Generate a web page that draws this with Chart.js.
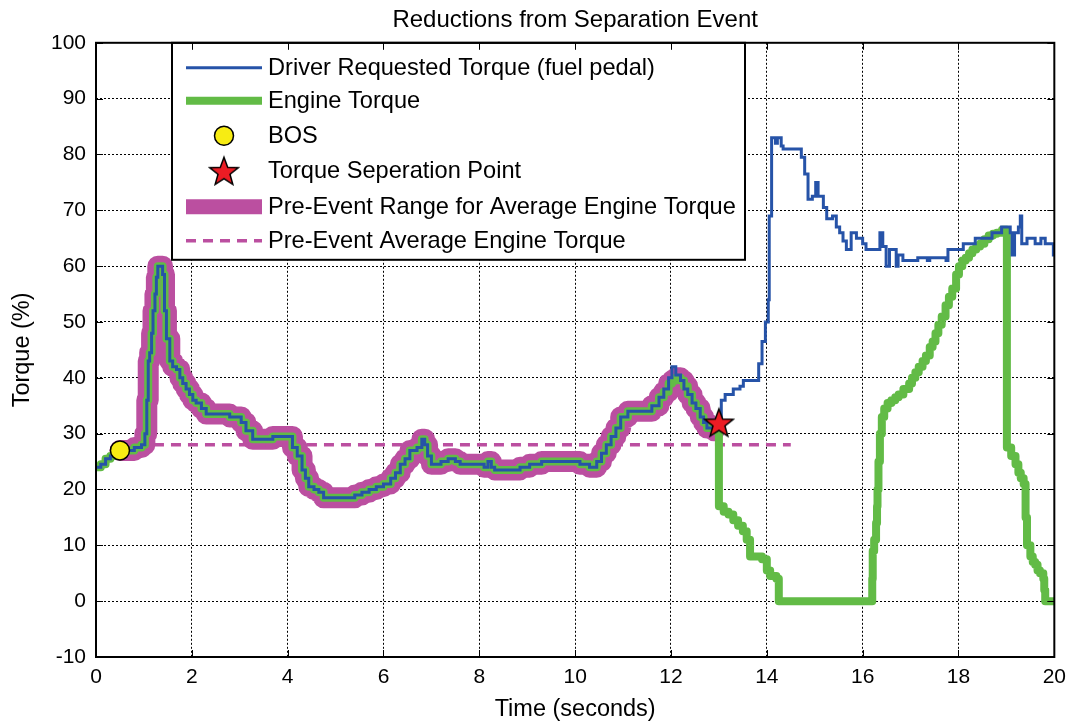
<!DOCTYPE html>
<html>
<head>
<meta charset="utf-8">
<title>Reductions from Separation Event</title>
<script src="https://cdn.jsdelivr.net/npm/chart.js@4.4.1/dist/chart.umd.min.js"></script>
<style>
  html, body { margin: 0; padding: 0; background: #fff; }
  #wrap { width: 1074px; height: 725px; }
</style>
</head>
<body>
<div id="wrap"><canvas id="torqueChart" width="1074" height="725"></canvas></div>
<script>
var FONT = "'Liberation Sans', Arial, Helvetica, sans-serif";

// Pedal (driver requested) torque, % vs seconds
var driverTime = [
  0, 0.1, 0.2, 0.3, 0.4, 0.5, 0.65, 0.8, 0.95, 1.02,
  1.06, 1.09, 1.12, 1.16, 1.19, 1.23, 1.26, 1.29, 1.39, 1.43,
  1.47, 1.54, 1.6, 1.68, 1.75, 1.81, 1.88, 1.95, 2.02, 2.09,
  2.2, 2.3, 2.58, 2.79, 3.03, 3.13, 3.27, 3.62, 3.69, 4.03,
  4.1, 4.2, 4.3, 4.37, 4.44, 4.55, 4.65, 4.75, 5.4, 5.55,
  5.7, 5.85, 6.0, 6.15, 6.25, 6.35, 6.45, 6.55, 6.7, 6.8,
  6.86, 6.92, 7.0, 7.2, 7.35, 7.5, 7.6, 7.8, 8.1, 8.18,
  8.25, 8.32, 8.7, 8.85, 9.05, 9.3, 9.9, 10.1, 10.3, 10.45,
  10.55, 10.65, 10.75, 10.85, 10.95, 11.1, 11.45, 11.6, 11.75, 11.85,
  11.95, 12.02, 12.1, 12.2, 12.27, 12.35, 12.44, 12.52, 12.61, 12.68,
  12.75, 12.9, 13.0, 13.05, 13.13, 13.3, 13.44, 13.51, 13.79, 13.83,
  13.9, 13.97, 14.03, 14.05, 14.1, 14.18, 14.22, 14.3, 14.34, 14.65,
  14.72, 14.79, 14.86, 14.95, 15.02, 15.07, 15.18, 15.25, 15.37, 15.45,
  15.52, 15.59, 15.66, 15.76, 15.87, 16.0, 16.07, 16.31, 16.36, 16.42,
  16.49, 16.56, 16.7, 16.74, 16.84, 17.1, 17.15, 17.35, 17.4, 17.74,
  17.78, 18.0, 18.1, 18.35, 18.7, 18.9, 19.08, 19.12, 19.17, 19.25,
  19.29, 19.32, 19.43, 19.6, 19.72, 19.81, 19.98, 20.0
];
var driverTorque = [
  24, 24.5, 25.5, 26, 26.5, 27, 27, 27.5, 28, 30,
  36, 43, 44.5, 48, 52, 55, 58, 60, 58.5, 52,
  47, 43, 42, 41.5, 40, 39, 38, 37, 36, 35.5,
  34.5, 33.5, 33.5, 33, 32, 30.5, 29, 29, 29.5, 29.5,
  27.5, 26, 23.5, 22, 20.5, 20, 19.5, 18.5, 19, 19.5,
  20, 20.5, 21, 22, 23, 24.5, 25.5, 27, 27.5, 29,
  28, 26, 24.5, 25, 25.5, 25, 24.5, 24.5, 24, 25,
  24, 23.5, 23.5, 24, 24.5, 25, 25, 24.5, 24, 25,
  26.5, 28, 29.5, 31, 33, 34, 34, 35, 36.5, 38,
  40, 42, 40.5, 39.5, 38, 37, 35.5, 34.5, 33, 32,
  31, 31, 33, 36, 37, 38, 38.5, 39.5, 39.5, 42.5,
  46.5, 50, 54, 69, 83, 82, 83, 81.5, 81, 81,
  79.5, 76.5, 72, 72.5, 75, 72.5, 70.5, 68.5, 69, 67,
  66, 64.5, 63, 66, 65, 64, 63, 63, 66, 63.5,
  60, 63, 60, 62, 61, 61, 61.5, 61, 61.5, 61,
  63, 63, 64, 65, 66, 67, 66, 62, 66, 67,
  69, 64, 65, 64, 65, 64, 62, 62
];

// Actual engine torque, % vs seconds
var engineTime = [
  0, 0.1, 0.2, 0.3, 0.4, 0.5, 0.65, 0.8, 0.95, 1.02,
  1.06, 1.09, 1.12, 1.16, 1.19, 1.23, 1.26, 1.29, 1.39, 1.43,
  1.47, 1.54, 1.6, 1.68, 1.75, 1.81, 1.88, 1.95, 2.02, 2.09,
  2.2, 2.3, 2.58, 2.79, 3.03, 3.13, 3.27, 3.62, 3.69, 4.03,
  4.1, 4.2, 4.3, 4.37, 4.44, 4.55, 4.65, 4.75, 5.4, 5.55,
  5.7, 5.85, 6.0, 6.15, 6.25, 6.35, 6.45, 6.55, 6.7, 6.8,
  6.86, 6.92, 7.0, 7.2, 7.35, 7.5, 7.6, 7.8, 8.1, 8.18,
  8.25, 8.32, 8.7, 8.85, 9.05, 9.3, 9.9, 10.1, 10.3, 10.45,
  10.55, 10.65, 10.75, 10.85, 10.95, 11.1, 11.45, 11.6, 11.75, 11.85,
  11.95, 12.02, 12.1, 12.2, 12.27, 12.35, 12.44, 12.52, 12.61, 12.68,
  12.75, 12.9, 13.0, 13.1, 13.2, 13.3, 13.4, 13.5, 13.58, 13.65,
  13.9, 14.0, 14.07, 14.2, 14.25, 16.18, 16.2, 16.21, 16.24, 16.28,
  16.3, 16.31, 16.33, 16.36, 16.4, 16.45, 16.52, 16.6, 16.68, 16.75,
  16.85, 16.97, 17.03, 17.1, 17.17, 17.25, 17.32, 17.4, 17.46, 17.52,
  17.58, 17.65, 17.73, 17.8, 17.87, 17.95, 18.01, 18.08, 18.15, 18.22,
  18.29, 18.37, 18.45, 18.54, 18.63, 18.72, 18.8, 18.91, 19.01, 19.1,
  19.19, 19.25, 19.3, 19.36, 19.4, 19.43, 19.5, 19.55, 19.6, 19.65,
  19.7, 19.77, 19.79, 19.81, 20.0
];
var engineTorque = [
  24, 24.5, 25.5, 26, 26.5, 27, 27, 27.5, 28, 30,
  36, 43, 44.5, 48, 52, 55, 58, 60, 58.5, 52,
  47, 43, 42, 41.5, 40, 39, 38, 37, 36, 35.5,
  34.5, 33.5, 33.5, 33, 32, 30.5, 29, 29, 29.5, 29.5,
  27.5, 26, 23.5, 22, 20.5, 20, 19.5, 18.5, 19, 19.5,
  20, 20.5, 21, 22, 23, 24.5, 25.5, 27, 27.5, 29,
  28, 26, 24.5, 25, 25.5, 25, 24.5, 24.5, 24, 25,
  24, 23.5, 23.5, 24, 24.5, 25, 25, 24.5, 24, 25,
  26.5, 28, 29.5, 31, 33, 34, 34, 35, 36.5, 37.5,
  39, 39.5, 40, 39.5, 38.5, 37, 35.5, 34.5, 33, 32,
  31, 30.5, 17, 16, 15.5, 14.5, 13.5, 12.5, 11, 8,
  7.5, 5.5, 4.5, 4, 0, 0, 4, 9, 11, 14,
  17, 20, 25, 30, 33, 34.5, 35.5, 36, 36.5, 37,
  38, 39, 40, 41, 42, 43, 44, 45.5, 46.5, 48,
  49.5, 51, 53, 54.5, 56, 58.5, 60, 61, 61.5, 62.3,
  63, 63.5, 64, 64.8, 65.5, 65.8, 66, 66.5, 27.5, 26,
  24.5, 23, 22, 21, 15, 10, 8, 7, 6.5, 5.5,
  5, 4, 2, 0, 0
];

// Markers and the pre-event window
var bosTime = [0.5];
var bosTorque = [27];
var separationTime = [13.0];
var separationTorque = [32];
var preEventWindow = [0.5, 12.95];
var averageWindow = [0.5, 14.5];
var averageTorque = 28;

var xTicks = { min: 0, max: 20, step: 2 };
var yTicks = { min: -10, max: 100, step: 10 };

var BLUE = "#2653a8";
var GREEN = "#62bb46";
var MAGENTA = "#bb4fa0";

function toPoints(xs, ys) {
  return xs.map(function(x, i){ return { x: x, y: ys[i] }; });
}

// band = engine torque inside the pre-event window
var bandPoints = toPoints(engineTime, engineTorque).filter(function(p){
  return p.x >= preEventWindow[0] && p.x <= preEventWindow[1];
});

function makeStar(r) {
  var size = Math.ceil(r * 2 + 4);
  var c = document.createElement("canvas");
  c.width = size; c.height = size;
  var g = c.getContext("2d");
  g.translate(size / 2, size / 2 + r * 0.1);
  g.beginPath();
  for (var i = 0; i < 10; i++) {
    var rad = i % 2 === 0 ? r : r * 0.42;
    var a = -Math.PI / 2 + i * Math.PI / 5;
    g.lineTo(rad * Math.cos(a), rad * Math.sin(a));
  }
  g.closePath();
  g.fillStyle = "#ec1c24";
  g.fill();
  g.lineWidth = 1.5;
  g.strokeStyle = "#000";
  g.stroke();
  return c;
}
var starImg = makeStar(15);

// box around the axes with inward ticks on all four sides
var framePlugin = {
  id: "frame",
  afterDraw: function(chart) {
    var ctx = chart.ctx, a = chart.chartArea;
    var xs = chart.scales.x, ys = chart.scales.y;
    ctx.save();
    ctx.strokeStyle = "#000";
    ctx.lineWidth = 1;
    ctx.beginPath();
    xs.ticks.forEach(function(t){
      var px = Math.round(xs.getPixelForValue(t.value)) + 0.5;
      ctx.moveTo(px, a.bottom); ctx.lineTo(px, a.bottom - 7);
      ctx.moveTo(px, a.top); ctx.lineTo(px, a.top + 7);
    });
    ys.ticks.forEach(function(t){
      var py = Math.round(ys.getPixelForValue(t.value)) + 0.5;
      ctx.moveTo(a.left, py); ctx.lineTo(a.left + 7, py);
      ctx.moveTo(a.right, py); ctx.lineTo(a.right - 7, py);
    });
    ctx.stroke();
    ctx.lineWidth = 2;
    ctx.strokeRect(a.left, a.top, a.right - a.left, a.bottom - a.top);
    ctx.restore();
  }
};

// legend box drawn inside the axes
var legendPlugin = {
  id: "boxLegend",
  afterDatasetsDraw: function(chart) {
    var ctx = chart.ctx, a = chart.chartArea;
    var left = a.left + 76, top = a.top, w = 573, h = 217;
    var rows = [25, 58, 93, 128, 164, 198];
    var x0 = left + 14, x1 = left + 90, xm = (x0 + x1) / 2;
    ctx.save();
    ctx.fillStyle = "#fff";
    ctx.fillRect(left, top, w, h);
    ctx.strokeStyle = "#000";
    ctx.lineWidth = 2;
    ctx.strokeRect(left, top, w, h);

    chart.data.datasets.forEach(function(ds, i){
      var y = top + rows[i];
      ctx.save();
      if (ds.legendMarker === "circle") {
        ctx.beginPath();
        ctx.arc(xm, y, ds.pointRadius, 0, Math.PI * 2);
        ctx.fillStyle = ds.pointBackgroundColor;
        ctx.fill();
        ctx.lineWidth = ds.pointBorderWidth;
        ctx.strokeStyle = ds.pointBorderColor;
        ctx.stroke();
      } else if (ds.legendMarker === "star") {
        ctx.drawImage(starImg, xm - starImg.width / 2, y - starImg.height / 2);
      } else {
        ctx.beginPath();
        ctx.moveTo(x0, y);
        ctx.lineTo(x1, y);
        ctx.strokeStyle = ds.borderColor;
        ctx.lineWidth = ds.legendLineWidth || ds.borderWidth;
        ctx.setLineDash(ds.borderDash || []);
        ctx.stroke();
      }
      ctx.restore();
      ctx.fillStyle = "#000";
      ctx.font = "23.6px " + FONT;
      ctx.textBaseline = "middle";
      ctx.textAlign = "left";
      ctx.fillText(ds.label, left + 96, y + 1);
    });
    ctx.restore();
  }
};

new Chart(document.getElementById("torqueChart"), {
  type: "line",
  data: {
    datasets: [
      {
        label: "Driver Requested Torque (fuel pedal)",
        data: toPoints(driverTime, driverTorque),
        borderColor: BLUE, borderWidth: 3, pointRadius: 0,
        stepped: true, order: 1
      },
      {
        label: "Engine Torque",
        data: toPoints(engineTime, engineTorque),
        borderColor: GREEN, borderWidth: 8, pointRadius: 0,
        stepped: true, borderJoinStyle: "round", borderCapStyle: "round",
        order: 2
      },
      {
        label: "BOS",
        data: toPoints(bosTime, bosTorque),
        showLine: false, pointRadius: 9.5, pointBorderWidth: 1.5,
        pointBackgroundColor: "#f7ec13", pointBorderColor: "#000",
        legendMarker: "circle", order: 0
      },
      {
        label: "Torque Seperation Point",
        data: toPoints(separationTime, separationTorque),
        showLine: false, pointStyle: starImg, pointRadius: 15,
        legendMarker: "star", order: 0
      },
      {
        label: "Pre-Event Range for Average Engine Torque",
        data: bandPoints,
        borderColor: MAGENTA, borderWidth: 21, legendLineWidth: 15,
        pointRadius: 0, stepped: true,
        borderJoinStyle: "round", borderCapStyle: "round", order: 4
      },
      {
        label: "Pre-Event Average Engine Torque",
        data: toPoints(averageWindow, [averageTorque, averageTorque]),
        borderColor: MAGENTA, borderWidth: 3.5, borderDash: [10, 7],
        pointRadius: 0, order: 3
      }
    ]
  },
  options: {
    responsive: false,
    animation: false,
    layout: { padding: { top: 0, right: 15, bottom: 0, left: 0 } },
    plugins: {
      legend: { display: false },
      tooltip: { enabled: false },
      title: {
        display: true,
        text: "Reductions from Separation Event",
        fullSize: false,
        color: "#000",
        font: { family: FONT, size: 24, weight: "normal" },
        padding: { top: 6, bottom: 8 }
      }
    },
    scales: {
      x: {
        type: "linear",
        min: xTicks.min, max: xTicks.max,
        afterFit: function(s){ s.height = 68; },
        ticks: {
          stepSize: xTicks.step, color: "#000", padding: 8, maxRotation: 0,
          font: { family: FONT, size: 21 }
        },
        grid: { color: "#000", lineWidth: 1, drawTicks: false },
        border: { display: false, dash: [2, 2] },
        title: {
          display: true, text: "Time (seconds)", color: "#000",
          font: { family: FONT, size: 23.5 }, padding: { top: 0, bottom: 1 }
        }
      },
      y: {
        min: yTicks.min, max: yTicks.max,
        afterFit: function(s){ s.width = 96; },
        ticks: {
          stepSize: yTicks.step, color: "#000", padding: 10,
          font: { family: FONT, size: 21 }
        },
        grid: { color: "#000", lineWidth: 1, drawTicks: false },
        border: { display: false, dash: [2, 2] },
        title: {
          display: true, text: "Torque (%)", color: "#000",
          font: { family: FONT, size: 23.5 }, padding: { top: 8, bottom: 0 }
        }
      }
    }
  },
  plugins: [legendPlugin, framePlugin]
});
</script>
</body>
</html>
